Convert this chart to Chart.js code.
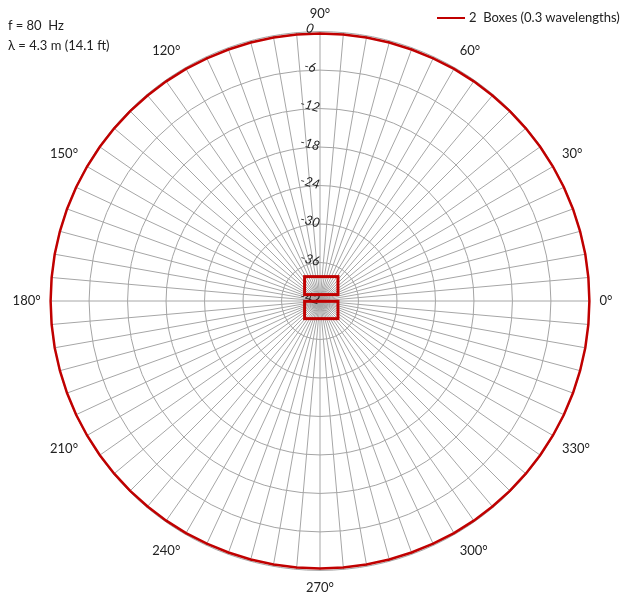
<!DOCTYPE html>
<html>
<head>
<meta charset="utf-8">
<script src="https://cdn.jsdelivr.net/npm/chart.js@4/dist/chart.umd.min.js"></script>
<style>
  body { margin: 0; background: #fff; }
  #wrap { position: relative; width: 639px; height: 597px; font-family: Lato, "Open Sans", sans-serif; color: #222; }
  #chart { position: absolute; left: 0; top: 0; }
  .note { position: absolute; left: 8px; font-size: 13px; line-height: 16px; white-space: nowrap; }
  #legend { position: absolute; left: 437px; top: 9px; font-size: 13px; line-height: 16px; white-space: nowrap; }
  #legend .swatch { display: inline-block; width: 28px; border-top: 2px solid #c00000; vertical-align: middle; margin-right: 4px; position: relative; top: -1px; }
</style>
</head>
<body>
<div id="wrap">
  <canvas id="chart" width="639" height="597"></canvas>
  <div class="note" style="top:17px">f = 80&nbsp; Hz</div>
  <div class="note" style="top:37px">&lambda; = 4.3 m (14.1 ft)</div>
  <div id="legend"><span class="swatch"></span>2&nbsp; Boxes (0.3 wavelengths)</div>
</div>
<script>
// polar angle in degrees (0 = right, counter-clockwise)
const angles = [];
for (let a = 0; a < 360; a += 5) angles.push(a);

// relative level in dB, one per angle above
const levels = [
  0, 0, 0, -0.02, -0.03, -0.05, -0.07, -0.1, -0.12, -0.15, -0.18, -0.2, -0.22, -0.25, -0.27, -0.28, -0.3, -0.3,
  -0.3, -0.3, -0.3, -0.28, -0.27, -0.25, -0.22, -0.2, -0.18, -0.15, -0.12, -0.1, -0.07, -0.05, -0.03, -0.02, 0, 0,
  0, 0, 0, -0.02, -0.03, -0.05, -0.07, -0.1, -0.12, -0.15, -0.18, -0.2, -0.22, -0.25, -0.27, -0.28, -0.3, -0.3,
  -0.3, -0.3, -0.3, -0.28, -0.27, -0.25, -0.22, -0.2, -0.18, -0.15, -0.12, -0.1, -0.07, -0.05, -0.03, -0.02, 0, 0
];

const seriesName = "2  Boxes (0.3 wavelengths)";
const dbMin = -42, dbMax = 0, dbStep = 6;
const labelEvery = 30;

// radar goes clockwise from the top, so reorder: index i -> 90 - 5i degrees
const labels = [], values = [];
for (let i = 0; i < angles.length; i++) {
  const a = ((90 - 5 * i) % 360 + 360) % 360;
  labels.push(a % labelEvery === 0 ? a + "°" : "");
  values.push(levels[angles.indexOf(a)]);
}

// dB tick labels along the vertical axis, slightly rotated
const tickLabels = {
  id: "tickLabels",
  afterDatasetsDraw(chart) {
    const s = chart.scales.r, ctx = chart.ctx;
    ctx.save();
    ctx.font = "italic 13px Lato, 'Open Sans', sans-serif";
    ctx.fillStyle = "#222";
    ctx.textAlign = "center";
    ctx.textBaseline = "middle";
    s.ticks.forEach(t => {
      const d = s.getDistanceFromCenterForValue(t.value);
      ctx.save();
      ctx.translate(s.xCenter - 10, s.yCenter - d - 3);
      ctx.rotate(14 * Math.PI / 180);
      ctx.fillText(String(t.value), 0, 0);
      ctx.restore();
    });
    // the two boxes, sized in dB-radius units
    const u = s.drawingArea / (dbMax - dbMin);
    ctx.strokeStyle = "#c00000";
    ctx.lineWidth = 3;
    [[1.0, 3.8], [-2.75, -0.05]].forEach(([y0, y1]) => {
      ctx.strokeRect(s.xCenter - 2.4 * u, s.yCenter - y1 * u, 5.2 * u, (y1 - y0) * u);
    });
    ctx.restore();
  }
};

new Chart(document.getElementById("chart"), {
  type: "radar",
  data: {
    labels: labels,
    datasets: [{
      label: seriesName,
      data: values,
      borderColor: "#c00000",
      borderWidth: 2.5,
      fill: false,
      pointRadius: 0,
      tension: 0
    }]
  },
  options: {
    responsive: false,
    animation: false,
    layout: { padding: { top: 6, right: 13 } },
    plugins: { legend: { display: false }, tooltip: { enabled: false } },
    scales: {
      r: {
        min: dbMin,
        max: dbMax,
        ticks: { stepSize: dbStep, display: false },
        grid: { circular: true, color: "#a4a4a4", lineWidth: 1 },
        angleLines: { color: "#a6a6a6", lineWidth: 1 },
        pointLabels: {
          padding: 10,
          color: "#222",
          font: { size: 13, family: "Lato, 'Open Sans', sans-serif" }
        }
      }
    }
  },
  plugins: [tickLabels]
});
</script>
</body>
</html>
